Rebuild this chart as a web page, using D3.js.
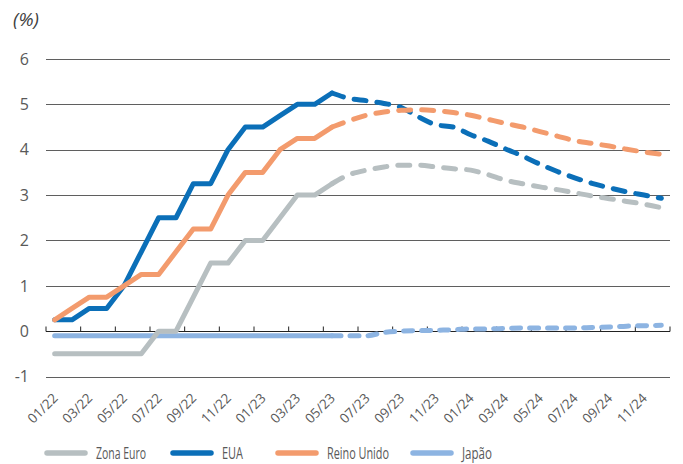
<!DOCTYPE html>
<html>
<head>
<meta charset="utf-8">
<script src="https://cdn.jsdelivr.net/npm/d3@7"></script>
<style>
  html, body { margin: 0; padding: 0; background: #fff; }
  svg { display: block; }
  .lbl { font-family: "Open Sans", sans-serif; fill: #595959; }
</style>
</head>
<body>
<svg id="chart" width="683" height="464"></svg>
<script>
// Monthly categories, Jan 2022 – Dec 2024
const months = [
  "01/22","02/22","03/22","04/22","05/22","06/22","07/22","08/22","09/22","10/22","11/22","12/22",
  "01/23","02/23","03/23","04/23","05/23","06/23","07/23","08/23","09/23","10/23","11/23","12/23",
  "01/24","02/24","03/24","04/24","05/24","06/24","07/24","08/24","09/24","10/24","11/24","12/24"
];
// Axis labels shown every other month
const tickLabels = ["01/22","03/22","05/22","07/22","09/22","11/22","01/23","03/23","05/23",
  "07/23","09/23","11/23","01/24","03/24","05/24","07/24","09/24","11/24"];
const yTicks = [-1, 0, 1, 2, 3, 4, 5, 6];

// Observed policy rates (%), 01/22 – 05/23
const zonaEuroHist = [-0.5,-0.5,-0.5,-0.5,-0.5,-0.5,0,0,0.75,1.5,1.5,2.0,2.0,2.5,3.0,3.0,3.25];
const euaHist      = [0.25,0.25,0.5,0.5,1.0,1.75,2.5,2.5,3.25,3.25,4.0,4.5,4.5,4.75,5.0,5.0,5.25];
const reinoHist    = [0.25,0.5,0.75,0.75,1.0,1.25,1.25,1.75,2.25,2.25,3.0,3.5,3.5,4.0,4.25,4.25,4.5];
const japaoHist    = [-0.1,-0.1,-0.1,-0.1,-0.1,-0.1,-0.1,-0.1,-0.1,-0.1,-0.1,-0.1,-0.1,-0.1,-0.1,-0.1,-0.1];

// Market-implied path (%), 05/23 – 12/24
const zonaEuroProj = [3.25,3.45,3.55,3.62,3.66,3.66,3.62,3.58,3.55,3.45,3.33,3.25,3.18,3.12,3.05,2.98,2.92,2.86,2.8,2.72];
const euaProj      = [5.25,5.13,5.08,5.02,4.93,4.72,4.55,4.5,4.33,4.19,4.02,3.86,3.68,3.52,3.38,3.26,3.16,3.07,3.0,2.93];
const reinoProj    = [4.5,4.64,4.76,4.83,4.87,4.88,4.86,4.82,4.76,4.67,4.58,4.5,4.4,4.3,4.2,4.14,4.08,4.01,3.95,3.9];
const japaoProj    = [-0.1,-0.1,-0.1,-0.03,0,0.01,0.02,0.03,0.05,0.05,0.06,0.07,0.07,0.07,0.07,0.08,0.09,0.11,0.12,0.13];

const seriesNames = ["Zona Euro", "EUA", "Reino Unido", "Japão"];

const colors = {
  "Zona Euro": "#b7bfc1",
  "EUA": "#0b6fb8",
  "Reino Unido": "#f39b6d",
  "Japão": "#8db4e2"
};

const series = [
  { name: "Japão", hist: japaoHist, proj: japaoProj, dash: "9,9" },
  { name: "EUA", hist: euaHist, proj: euaProj, dash: "12,11" },
  { name: "Reino Unido", hist: reinoHist, proj: reinoProj, dash: "12,11" },
  { name: "Zona Euro", hist: zonaEuroHist, proj: zonaEuroProj, dash: "12,11" }
];

const svg = d3.select("#chart");
const plotLeft = 46, plotRight = 670, plotTop = 59, plotBottom = 376.5;

const x = d3.scalePoint().domain(months).range([plotLeft, plotRight]).padding(0.5);
const y = d3.scaleLinear().domain([-1, 6]).range([plotBottom, plotTop]);
const step = x.step();

// Horizontal gridlines
svg.append("g").selectAll("line")
  .data(yTicks.filter(d => d !== 0))
  .join("line")
  .attr("x1", plotLeft).attr("x2", plotRight)
  .attr("y1", d => Math.round(y(d)) + 0.5).attr("y2", d => Math.round(y(d)) + 0.5)
  .attr("stroke", "#5f5f5f").attr("stroke-width", 1);

// Y-axis labels
svg.append("g").selectAll("text")
  .data(yTicks)
  .join("text")
  .attr("class", "lbl")
  .attr("x", 29).attr("y", d => y(d))
  .attr("dy", "0.36em")
  .attr("text-anchor", "end")
  .attr("font-size", 16)
  .text(d => d);

// Unit label
svg.append("text")
  .attr("x", 13).attr("y", 26)
  .attr("font-family", "'Open Sans', sans-serif")
  .attr("font-style", "italic")
  .attr("font-size", 19)
  .attr("fill", "#404040")
  .text("(%)");

// Zero axis with tick marks between every two months
const y0 = Math.round(y(0)) + 0.5;
const axisG = svg.append("g");
axisG.append("line")
  .attr("x1", plotLeft).attr("x2", plotRight)
  .attr("y1", y0).attr("y2", y0)
  .attr("stroke", "#222").attr("stroke-width", 1.2);
axisG.selectAll("line.tk")
  .data(d3.range(0, months.length + 1, 2))
  .join("line")
  .attr("class", "tk")
  .attr("x1", i => plotLeft + i * step).attr("x2", i => plotLeft + i * step)
  .attr("y1", y0).attr("y2", y0 - 5)
  .attr("stroke", "#222").attr("stroke-width", 1);

// Month labels, rotated
svg.append("g").selectAll("text")
  .data(tickLabels)
  .join("text")
  .attr("class", "lbl")
  .attr("font-size", 13.5)
  .attr("text-anchor", "end")
  .attr("transform", d => `translate(${x(d) + 4},${399}) rotate(-45)`)
  .text(d => d);

// Series lines: solid for observed rates, dashed for projections
const lineHist = d3.line()
  .x(d => x(d.m)).y(d => y(d.v));
const lineProj = d3.line()
  .x(d => x(d.m)).y(d => y(d.v))
  .curve(d3.curveMonotoneX);

const projStart = zonaEuroHist.length - 1;
const linesG = svg.append("g");
series.forEach(s => {
  const hist = s.hist.map((v, i) => ({ m: months[i], v }));
  const proj = s.proj.map((v, i) => ({ m: months[projStart + i], v }));
  linesG.append("path")
    .attr("d", lineHist(hist))
    .attr("fill", "none")
    .attr("stroke", colors[s.name])
    .attr("stroke-width", 5)
    .attr("stroke-linejoin", "round")
    .attr("stroke-linecap", "round");
  linesG.append("path")
    .attr("d", lineProj(proj))
    .attr("fill", "none")
    .attr("stroke", colors[s.name])
    .attr("stroke-width", 5)
    .attr("stroke-dasharray", s.dash)
    .attr("stroke-linecap", "round");
});

// Legend (condensed lettering)
const legendX = [45, 171, 276, 411];
const legendTextWidth = [50, 21, 62, 30];
const legendG = svg.append("g").attr("transform", "translate(0,453)");
seriesNames.forEach((name, i) => {
  const g = legendG.append("g").attr("transform", `translate(${legendX[i]},0)`);
  g.append("line")
    .attr("x1", 2).attr("x2", 40)
    .attr("stroke", colors[name])
    .attr("stroke-width", 5.5)
    .attr("stroke-linecap", "round");
  g.append("text")
    .attr("class", "lbl")
    .attr("x", 51).attr("y", 0)
    .attr("dy", "0.36em")
    .attr("font-size", 15.5)
    .attr("fill", "#404040")
    .attr("textLength", legendTextWidth[i])
    .attr("lengthAdjust", "spacingAndGlyphs")
    .text(name);
});
</script>
</body>
</html>
